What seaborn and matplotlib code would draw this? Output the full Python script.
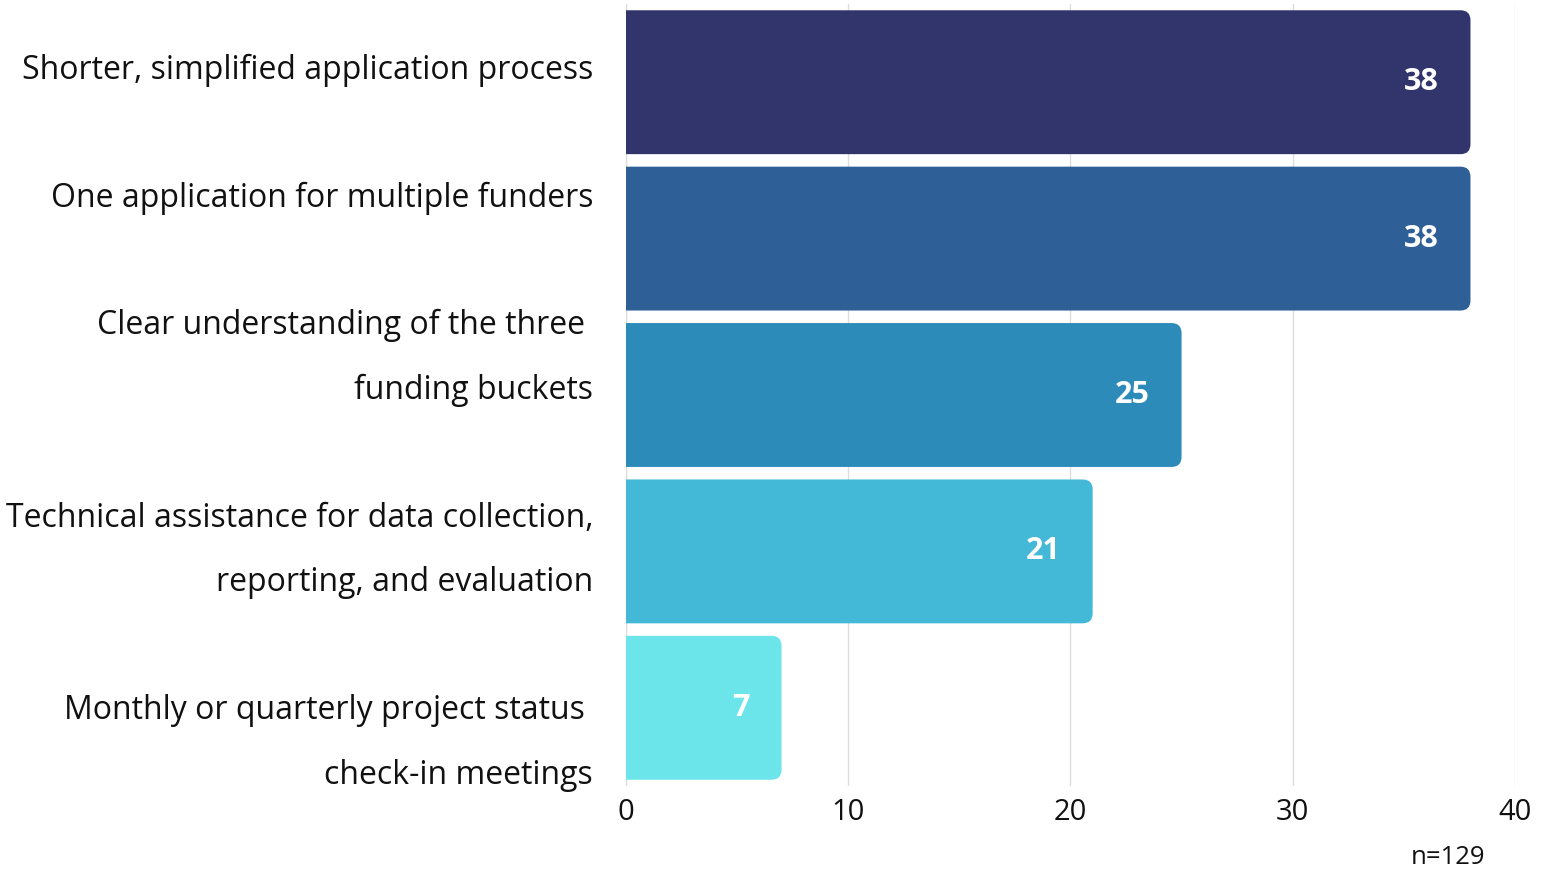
import numpy as np
import pandas as pd
import matplotlib
matplotlib.use("Agg")
import matplotlib.pyplot as plt
import seaborn as sns
from matplotlib.path import Path
from matplotlib.patches import PathPatch

# Data
categories = [
    "Shorter, simplified application process",
    "One application for multiple funders",
    "Clear understanding of the three \nfunding buckets",
    "Technical assistance for data collection,\nreporting, and evaluation",
    "Monthly or quarterly project status \ncheck-in meetings",
]
counts = [38, 38, 25, 21, 7]
colors = ["#31356B", "#2E5F97", "#2D8BBA", "#43B9D7", "#6BE5E9"]
xticks = [0, 10, 20, 30, 40]
n_label = "n=129"

# label nudges (fraction of a category slot) to match the original layout
label_offsets = [-0.078, -0.255, -0.235, -0.005, 0.225]

sns.set_theme(style="white")
plt.rcParams["font.family"] = ["Open Sans", "DejaVu Sans"]

df = pd.DataFrame({"item": categories, "count": counts})

fig = plt.figure(figsize=(15.49, 8.71), dpi=100)
ax = fig.add_axes([0.4041, 0.0976, 0.978 - 0.4041, 0.9954 - 0.0976])

sns.barplot(data=df, y="item", x="count", hue="item", palette=colors,
            legend=False, width=0.92, saturation=1, ax=ax)

ax.set_xlim(0, 40)
ax.set_xticks(xticks)
ax.set_xlabel("")
ax.set_ylabel("")
ax.set_yticklabels([])
ax.tick_params(axis="y", length=0)
ax.tick_params(axis="x", length=0, labelsize=21, pad=9, colors="#111111")
ax.xaxis.grid(True, color="#DDDDDD", linewidth=1)
ax.set_axisbelow(True)
for s in ax.spines.values():
    s.set_visible(False)
ax.axvline(0, color="#E6E6E6", linewidth=1, zorder=0)


def right_rounded(x, y, w, h, rx, ry):
    # rectangle with square left side and rounded right corners
    x1, y1 = x + w, y + h
    verts = [(x, y), (x1 - rx, y), (x1, y), (x1, y + ry),
             (x1, y1 - ry), (x1, y1), (x1 - rx, y1), (x, y1), (x, y)]
    codes = [Path.MOVETO, Path.LINETO, Path.CURVE3, Path.CURVE3,
             Path.LINETO, Path.CURVE3, Path.CURVE3, Path.LINETO, Path.CLOSEPOLY]
    return Path(verts, codes)


# swap the seaborn bars for right-rounded versions of the same geometry
fig.canvas.draw()
inv = ax.transData.inverted()
p0 = inv.transform((0, 0))
p1 = inv.transform((1, 1))
xu = abs(p1[0] - p0[0])   # x data units per pixel
yu = abs(p1[1] - p0[1])   # y data units per pixel
r_px = 10
for bar in list(ax.patches):
    x, y = bar.get_x(), bar.get_y()
    w, h = bar.get_width(), bar.get_height()
    pp = PathPatch(right_rounded(x, y, w, h, r_px * xu, r_px * yu),
                   facecolor=bar.get_facecolor(), edgecolor="none",
                   zorder=bar.get_zorder())
    ax.add_patch(pp)
    bar.set_visible(False)

# value labels inside the bars
for i, v in enumerate(counts):
    ax.annotate(str(v), xy=(v, i), xytext=(-32, 0), textcoords="offset pixels",
                ha="right", va="center", color="white", fontsize=22, fontweight="bold")

# category labels
ytr = ax.get_yaxis_transform()
for i, lab in enumerate(categories):
    ax.text(-0.037, i + label_offsets[i], lab, transform=ytr, ha="right", va="center",
            fontsize=23, linespacing=2.26, color="#111111")

fig.text(1485 / 1549, 1 - 857 / 871, n_label, ha="right", va="center",
         fontsize=18.5, color="#111111")

fig.savefig("out.png", dpi=100)
